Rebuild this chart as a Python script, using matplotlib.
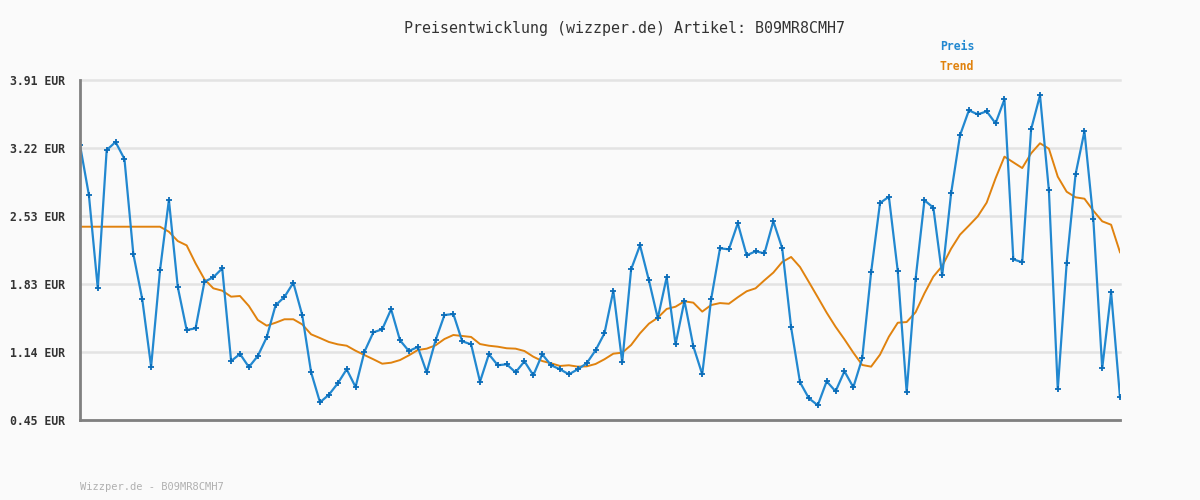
import matplotlib
matplotlib.use("Agg")
import matplotlib.pyplot as plt

title = "Preisentwicklung (wizzper.de) Artikel: B09MR8CMH7"
footer = "Wizzper.de - B09MR8CMH7"
y_ticks = [0.45, 1.14, 1.83, 2.53, 3.22, 3.91]
y_tick_labels = ["0.45 EUR", "1.14 EUR", "1.83 EUR", "2.53 EUR", "3.22 EUR", "3.91 EUR"]

preis = [3.248, 2.74, 1.79, 3.197, 3.279, 3.106, 2.139, 1.681, 0.993, 1.973,
         2.689, 1.803, 1.366, 1.383, 1.857, 1.902, 1.993, 1.050, 1.122, 0.989,
         1.101, 1.291, 1.617, 1.702, 1.847, 1.518, 0.935, 0.63, 0.707, 0.823,
         0.966, 0.786, 1.145, 1.342, 1.373, 1.577, 1.261, 1.152, 1.193, 0.935,
         1.261, 1.518, 1.529, 1.251, 1.22, 0.84, 1.119, 1.007, 1.017, 0.935,
         1.047, 0.905, 1.119, 1.007, 0.966, 0.915, 0.966, 1.027, 1.159, 1.332,
         1.766, 1.037, 1.983, 2.228, 1.872, 1.485, 1.902, 1.22, 1.664, 1.2,
         0.915, 1.678, 2.197, 2.187, 2.452, 2.126, 2.167, 2.146, 2.472, 2.197,
         1.393, 0.834, 0.671, 0.60, 0.844, 0.742, 0.946, 0.783, 1.078, 1.953,
         2.658, 2.722, 1.964, 0.732, 1.882, 2.686, 2.611, 1.922, 2.757, 3.347,
         3.601, 3.56, 3.591, 3.469, 3.713, 2.085, 2.055, 3.408, 3.754, 2.787,
         0.762, 2.045, 2.95, 3.388, 2.492, 0.976, 1.75, 0.681]

trend = [2.417, 2.417, 2.417, 2.417, 2.417, 2.417, 2.417, 2.417, 2.417, 2.417,
         2.366, 2.271, 2.227, 2.044, 1.882, 1.79, 1.766, 1.705, 1.712, 1.61,
         1.468, 1.41, 1.44, 1.475, 1.475, 1.423, 1.322, 1.284, 1.244, 1.22,
         1.206, 1.155, 1.111, 1.068, 1.023, 1.033, 1.06, 1.108, 1.162, 1.176,
         1.21, 1.274, 1.315, 1.305, 1.295, 1.223, 1.206, 1.196, 1.18, 1.176,
         1.152, 1.094, 1.05, 1.027, 1.0, 1.007, 0.993, 0.996, 1.02, 1.068,
         1.125, 1.135, 1.213, 1.332, 1.43, 1.491, 1.58, 1.603, 1.658, 1.644,
         1.553, 1.62, 1.64, 1.633, 1.699, 1.76, 1.79, 1.872, 1.95, 2.058,
         2.109, 2.007, 1.854, 1.699, 1.542, 1.399, 1.271, 1.135, 1.01, 0.993,
         1.115, 1.298, 1.44, 1.447, 1.546, 1.739, 1.909, 2.017, 2.193, 2.336,
         2.428, 2.523, 2.662, 2.909, 3.13, 3.072, 3.014, 3.164, 3.266, 3.211,
         2.926, 2.773, 2.716, 2.702, 2.58, 2.472, 2.437, 2.157]

BG = "#fafafa"
BLUE = "#2288d0"
ORANGE = "#e0820e"
MONO = "DejaVu Sans Mono"

fig = plt.figure(figsize=(12, 5), dpi=100, facecolor=BG)
ax = fig.add_axes([80/1200, 1-420/500, 1040/1200, 340/500], facecolor=BG)

x = list(range(len(preis)))
ax.plot(x, trend, color=ORANGE, lw=1.4, zorder=3)
ax.plot(x, preis, color=BLUE, lw=1.6, marker="+", ms=4, mew=1.3,
        mec="#0a6cb8", zorder=4)

ax.set_xlim(0, len(preis) - 1)
ax.set_ylim(0.45, 3.91)
ax.set_yticks(y_ticks)
ax.set_yticklabels(y_tick_labels, fontfamily=MONO, fontweight="bold",
                   fontsize=8.3, color="#333333")
ax.set_xticks([])
ax.tick_params(axis="y", length=0, pad=10.5)
for v in y_ticks:
    ax.axhline(v, color="#e3e3e3", lw=1.8, zorder=1, clip_on=False)

for s in ["top", "right"]:
    ax.spines[s].set_visible(False)
for s in ["left", "bottom"]:
    ax.spines[s].set_color("#808080")
    ax.spines[s].set_linewidth(2)
    ax.spines[s].set_zorder(5)

fig.text(624/1200, 1-28/500, title, ha="center", va="center",
         fontfamily=MONO, fontsize=10.8, color="#333333")
fig.text(940/1200, 1-47/500, "Preis", ha="left", va="center",
         fontfamily=MONO, fontweight="bold", fontsize=8.3, color=BLUE)
fig.text(940/1200, 1-67/500, "Trend", ha="left", va="center",
         fontfamily=MONO, fontweight="bold", fontsize=8.3, color=ORANGE)
fig.text(80/1200, 1-487/500, footer, ha="left", va="center",
         fontfamily=MONO, fontsize=7.5, color="#b0b0b0")

fig.savefig("out.png", dpi=100, facecolor=BG)
